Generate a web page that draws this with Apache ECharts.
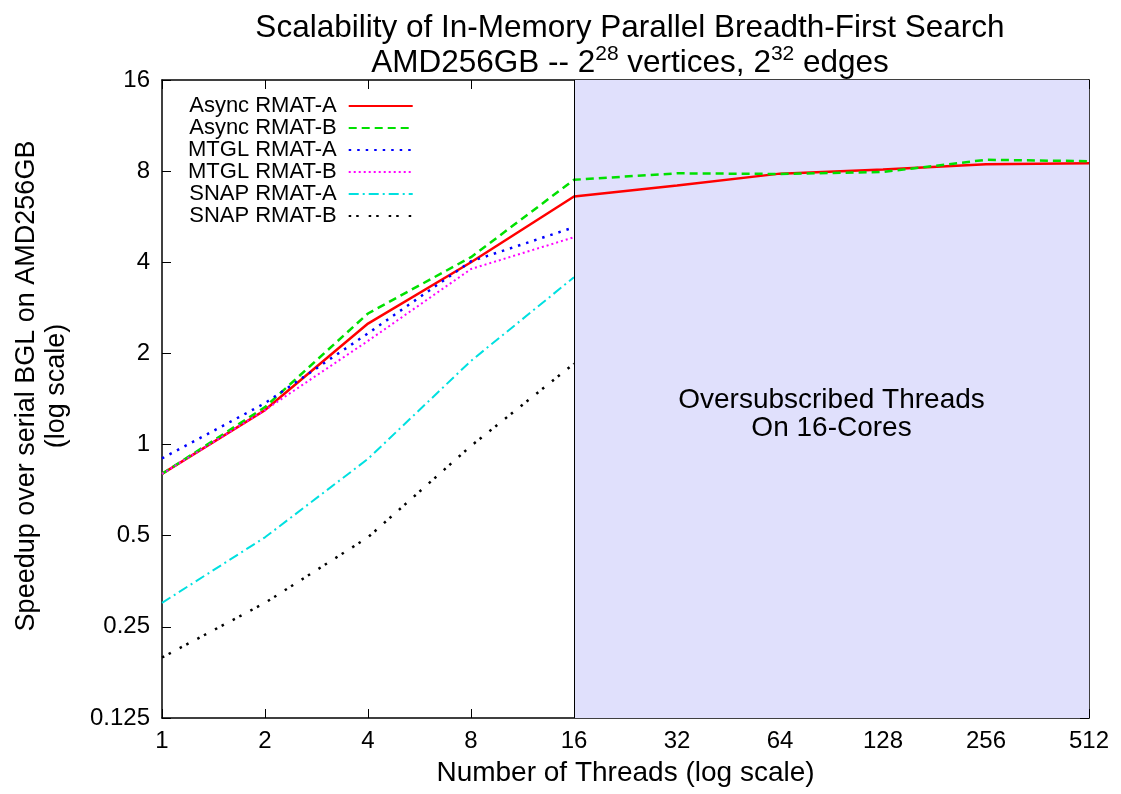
<!DOCTYPE html>
<html>
<head>
<meta charset="utf-8">
<script src="https://cdn.jsdelivr.net/npm/echarts@6/dist/echarts.min.js"></script>
<style>
  html, body { margin: 0; padding: 0; background: #fff; }
  #chart { width: 1121px; height: 794px; }
</style>
</head>
<body>
<div id="chart"></div>
<script>
// thread counts on the x axis
const threads = [1, 2, 4, 8, 16, 32, 64, 128, 256, 512];
const yTicks = [0.125, 0.25, 0.5, 1, 2, 4, 8, 16];

// speedup values
const asyncA = [0.80, 1.30, 2.51, 4.00, 6.60, 7.17, 7.85, 8.10, 8.43, 8.50];
const asyncB = [0.80, 1.33, 2.71, 4.16, 7.49, 7.87, 7.83, 7.95, 8.72, 8.63];
const mtglA = [0.90, 1.37, 2.33, 4.03, 5.22];
const mtglB = [0.80, 1.30, 2.20, 3.80, 4.84];
const snapA = [0.30, 0.494, 0.897, 1.89, 3.57];
const snapB = [0.198, 0.30, 0.494, 0.99, 1.85];

const coresLimit = 16;
const font = 'Liberation Sans, Arial, Helvetica, sans-serif';

function pairs(vals) {
  return vals.map((v, i) => [threads[i], v]);
}

function mkLine(name, vals, color, type, width) {
  return {
    name: name,
    type: 'line',
    data: pairs(vals),
    symbol: 'none',
    lineStyle: { color: color, width: width || 2, type: type },
    itemStyle: { color: color },
    emphasis: { disabled: true }
  };
}

const series = [
  mkLine('Async RMAT-A', asyncA, '#ff0000', 'solid', 2.5),
  mkLine('Async RMAT-B', asyncB, '#00e000', [8, 5], 2.5),
  mkLine('MTGL RMAT-A', mtglA, '#0000ff', [2.5, 6], 2.5),
  mkLine('MTGL RMAT-B', mtglB, '#ff00ff', [2, 3], 2),
  mkLine('SNAP RMAT-A', snapA, '#00e0e0', [10, 4, 2, 4], 2),
  mkLine('SNAP RMAT-B', snapB, '#000000', [2.5, 5, 2.5, 10], 2.5)
];

// shaded oversubscribed region + divider line
series[0].markArea = {
  silent: true,
  itemStyle: { color: '#e0e0fc' },
  label: {
    show: true,
    position: 'inside',
    offset: [0, 15],
    formatter: 'Oversubscribed Threads\nOn 16-Cores',
    fontFamily: font,
    fontSize: 28,
    lineHeight: 28,
    color: '#000'
  },
  data: [[{ xAxis: coresLimit, yAxis: 0.125 }, { xAxis: 512, yAxis: 16 }]]
};
series[0].markLine = {
  silent: true,
  symbol: 'none',
  label: { show: false },
  lineStyle: { color: '#000', width: 1, type: 'solid' },
  data: [{ xAxis: coresLimit }]
};
series[0].z = 3;

const chart = echarts.init(document.getElementById('chart'));

const tickStyle = { inside: true, length: 9, lineStyle: { color: '#000', width: 1 } };

chart.setOption({
  animation: false,
  title: {
    left: 625,
    textAlign: 'center',
    top: 4,
    text: '{n|Scalability of In-Memory Parallel Breadth-First Search}\n{n|AMD256GB -- 2}{s|28}{n| vertices, 2}{s|32}{n| edges}',
    textStyle: {
      fontFamily: font,
      fontWeight: 'normal',
      color: '#000',
      rich: {
        n: { fontFamily: font, fontSize: 31.5, color: '#000', lineHeight: 35, verticalAlign: 'bottom' },
        s: { fontFamily: font, fontSize: 21, color: '#000', lineHeight: 35, verticalAlign: 'top' }
      }
    }
  },
  legend: {
    orient: 'vertical',
    left: 183,
    top: 90,
    align: 'right',
    itemWidth: 64,
    itemHeight: 14,
    itemGap: 0,
    selectedMode: false,
    itemStyle: { opacity: 0 },
    textStyle: {
      fontFamily: font,
      fontSize: 22,
      lineHeight: 22,
      color: '#000',
      padding: [0, 7, 0, 0]
    },
    data: series.map(s => s.name)
  },
  grid: { left: 162, right: 32, top: 80, bottom: 76, outerBoundsMode: 'none' },
  xAxis: [
    {
      type: 'log',
      logBase: 2,
      min: 1,
      max: 512,
      interval: 1,
      name: 'Number of Threads (log scale)',
      nameLocation: 'middle',
      nameGap: 41,
      nameTextStyle: { fontFamily: font, fontSize: 28, color: '#000' },
      axisLine: { lineStyle: { color: '#000', width: 1.5 } },
      axisTick: tickStyle,
      splitLine: { show: false },
      axisLabel: { fontFamily: font, fontSize: 24, color: '#000', margin: 11 }
    },
    {
      type: 'log',
      logBase: 2,
      min: 1,
      max: 512,
      interval: 1,
      position: 'top',
      axisLine: { lineStyle: { color: '#000', width: 1.5 } },
      axisTick: tickStyle,
      axisLabel: { show: false },
      splitLine: { show: false }
    }
  ],
  yAxis: [
    {
      type: 'log',
      logBase: 2,
      min: 0.125,
      max: 16,
      interval: 1,
      name: 'Speedup over serial BGL on AMD256GB\n(log scale)',
      nameLocation: 'middle',
      nameGap: 90,
      nameTextStyle: { fontFamily: font, fontSize: 27, color: '#000', lineHeight: 30, padding: [0, 0, 0, 26] },
      axisLine: { show: true, lineStyle: { color: '#000', width: 1.5 } },
      axisTick: tickStyle,
      splitLine: { show: false },
      axisLabel: {
        fontFamily: font,
        fontSize: 24,
        color: '#000',
        margin: 12,
        formatter: v => {
          const hit = yTicks.find(t => Math.abs(t - v) < 1e-6);
          return hit !== undefined ? String(hit) : '';
        }
      }
    },
    {
      type: 'log',
      logBase: 2,
      min: 0.125,
      max: 16,
      interval: 1,
      position: 'right',
      axisLine: { show: true, lineStyle: { color: '#000', width: 1.5 } },
      axisTick: tickStyle,
      axisLabel: { show: false },
      splitLine: { show: false }
    }
  ],
  series: series
});
</script>
</body>
</html>
